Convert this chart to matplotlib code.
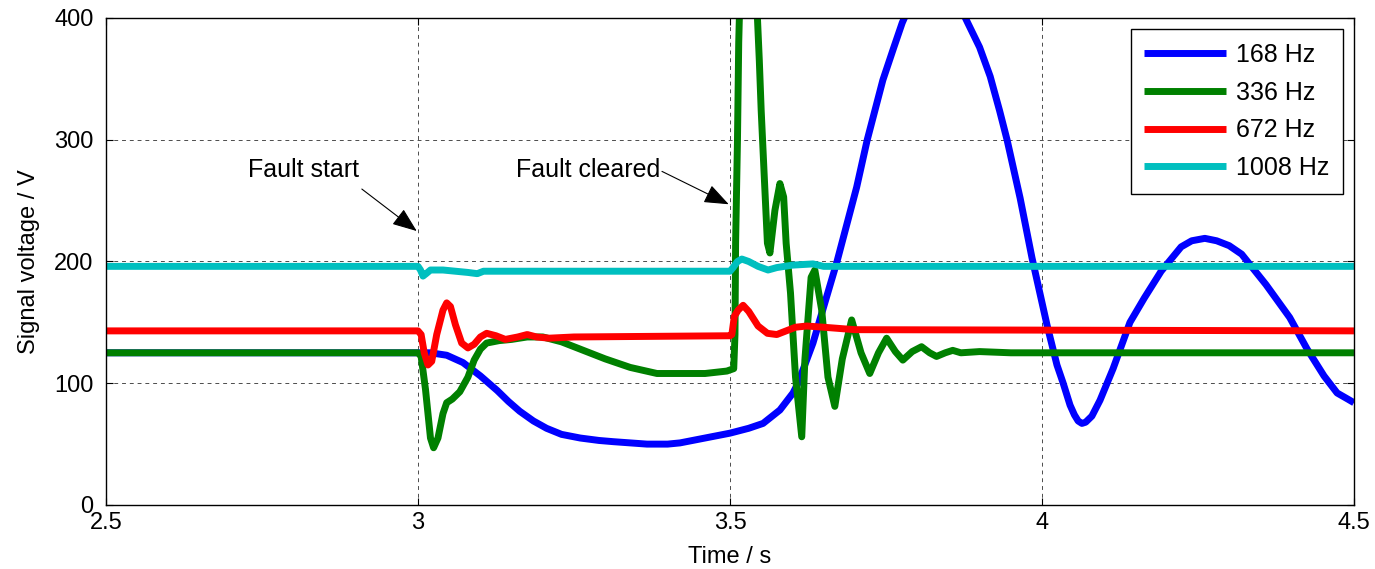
import matplotlib
matplotlib.use("Agg")
import matplotlib.pyplot as plt

plt.rcParams["font.family"] = ["Liberation Sans", "DejaVu Sans"]

# 168 Hz signal
t_168 = [2.5, 3.0, 3.02, 3.046, 3.072, 3.1, 3.127, 3.145, 3.163, 3.185, 3.206, 3.23, 3.26,
         3.29, 3.313, 3.34, 3.367, 3.40, 3.42, 3.45, 3.48, 3.50, 3.53, 3.553, 3.58, 3.601,
         3.609, 3.633, 3.671, 3.703, 3.72, 3.745, 3.762, 3.776, 3.80, 3.8285, 3.855, 3.881,
         3.90, 3.917, 3.932, 3.944, 3.965, 3.984, 4.008, 4.024, 4.034, 4.045, 4.052, 4.058,
         4.064, 4.07, 4.08, 4.093, 4.114, 4.141, 4.164, 4.191, 4.223, 4.24, 4.261, 4.28, 4.30,
         4.32, 4.359, 4.397, 4.425, 4.452, 4.473, 4.49, 4.5]
v_168 = [125, 125, 125, 123, 117, 106, 94, 85, 77, 69, 63, 58, 55,
         53, 52, 51, 50, 50, 51, 54, 57, 59, 63, 67, 78, 92,
         100, 133, 199, 261, 300, 349, 375, 396, 424, 435, 424, 396,
         376, 352, 324, 300, 252, 203, 148, 115, 100, 82, 74, 69,
         67, 68, 73, 86, 112, 150, 170, 192, 212, 217, 219, 217, 213,
         206, 181, 154, 128, 106, 92, 87, 84]

# 336 Hz signal
t_336 = [2.5, 3.0, 3.005, 3.012, 3.02, 3.025, 3.032, 3.04, 3.046, 3.055, 3.067, 3.08, 3.09,
         3.10, 3.11, 3.13, 3.15, 3.175, 3.2, 3.23, 3.26, 3.30, 3.34, 3.383, 3.42, 3.46, 3.495,
         3.506, 3.508, 3.509, 3.512, 3.514, 3.517, 3.52, 3.54, 3.544, 3.547, 3.550, 3.555,
         3.56, 3.564, 3.572, 3.58, 3.586, 3.59, 3.597, 3.605, 3.615, 3.62, 3.63, 3.636, 3.647,
         3.657, 3.668, 3.68, 3.695, 3.71, 3.724, 3.738, 3.751, 3.765, 3.777, 3.792, 3.807,
         3.82, 3.831, 3.845, 3.857, 3.87, 3.90, 3.95, 4.5]
v_336 = [125, 125, 122, 95, 55, 47, 55, 75, 84, 87, 93, 105, 119,
         128, 133, 135, 136, 138, 138, 134, 128, 120, 113, 108, 108, 108, 110,
         112, 140, 215, 300, 380, 440, 460, 460, 400, 365, 324, 269,
         215, 207, 242, 264, 253, 215, 174, 105, 56, 119, 187, 193, 160,
         105, 81, 120, 152, 125, 108, 125, 137, 126, 119, 126, 130,
         125, 122, 125, 127, 125, 126, 125, 125]

# 672 Hz signal
t_672 = [2.5, 3.0, 3.005, 3.01, 3.016, 3.022, 3.03, 3.04, 3.046, 3.052, 3.06, 3.07, 3.08,
         3.09, 3.10, 3.11, 3.125, 3.14, 3.16, 3.175, 3.19, 3.21, 3.25, 3.5, 3.503, 3.507,
         3.513, 3.521, 3.53, 3.545, 3.56, 3.575, 3.59, 3.605, 3.623, 3.65, 3.7, 4.5]
v_672 = [143, 143, 140, 125, 115, 118, 140, 160, 166, 163, 148, 133, 129,
         132, 138, 141, 139, 136, 138, 140, 138, 137, 138, 139, 140, 155,
         160, 164, 159, 147, 141, 140, 143, 146, 147, 146, 144, 143]

# 1008 Hz signal
t_1008 = [2.5, 3.0, 3.004, 3.008, 3.013, 3.02, 3.04, 3.06, 3.08, 3.095, 3.105, 3.12, 3.5,
          3.505, 3.512, 3.519, 3.53, 3.545, 3.561, 3.575, 3.6, 3.633, 3.65, 4.5]
v_1008 = [196, 196, 193, 188, 190, 193, 193, 192, 191, 190, 192, 192, 192,
          195, 200, 202, 200, 196, 193, 195, 197, 198, 196, 196]

series = [("168 Hz", t_168, v_168, "#0000FF"),
          ("336 Hz", t_336, v_336, "#008000"),
          ("672 Hz", t_672, v_672, "#FF0000"),
          ("1008 Hz", t_1008, v_1008, "#00BFBF")]

x_ticks = [2.5, 3, 3.5, 4, 4.5]
x_tick_labels = ["2.5", "3", "3.5", "4", "4.5"]
y_ticks = [0, 100, 200, 300, 400]

FS = 17

fig = plt.figure(figsize=(13.75, 5.69), dpi=100)
ax = fig.add_axes([0.0771, 0.1125, 0.9076, 0.8559])

for label, t, v, color in series:
    ax.plot(t, v, color=color, lw=5, label=label,
            solid_joinstyle="round", solid_capstyle="butt")

ax.set_xlim(2.5, 4.5)
ax.set_ylim(0, 400)
ax.set_xticks(x_ticks)
ax.set_xticklabels(x_tick_labels)
ax.set_yticks(y_ticks)
ax.tick_params(direction="in", length=5, top=True, right=True, labelsize=FS)
ax.tick_params(axis="y", pad=9)
ax.tick_params(axis="x", pad=5)
ax.grid(True, color="black", ls=(0, (4, 4)), lw=0.7, alpha=0.7)
for s in ax.spines.values():
    s.set_linewidth(1.0)

ax.set_xlabel("Time / s", fontsize=FS, labelpad=9)
ax.set_ylabel("Signal voltage / V", fontsize=FS, labelpad=10)

arrow = dict(arrowstyle="-|>,head_length=0.9,head_width=0.35", color="black",
             lw=0.8, mutation_scale=17, shrinkA=0, shrinkB=0)
ax.annotate("", xy=(2.998, 225), xytext=(2.91, 259.5), arrowprops=arrow)
ax.text(2.816, 275, "Fault start", fontsize=18, ha="center", va="center")
ax.annotate("", xy=(3.498, 247), xytext=(3.391, 274), arrowprops=arrow)
ax.text(3.272, 275, "Fault cleared", fontsize=18, ha="center", va="center")

leg = ax.legend(loc="upper right", fontsize=18, handlelength=3.25, labelspacing=0.55,
                handletextpad=0.4, borderaxespad=0.45, fancybox=False, framealpha=1,
                borderpad=0.55)
leg.get_frame().set_edgecolor("black")
leg.get_frame().set_linewidth(1.0)

fig.savefig("out.png", dpi=100)
